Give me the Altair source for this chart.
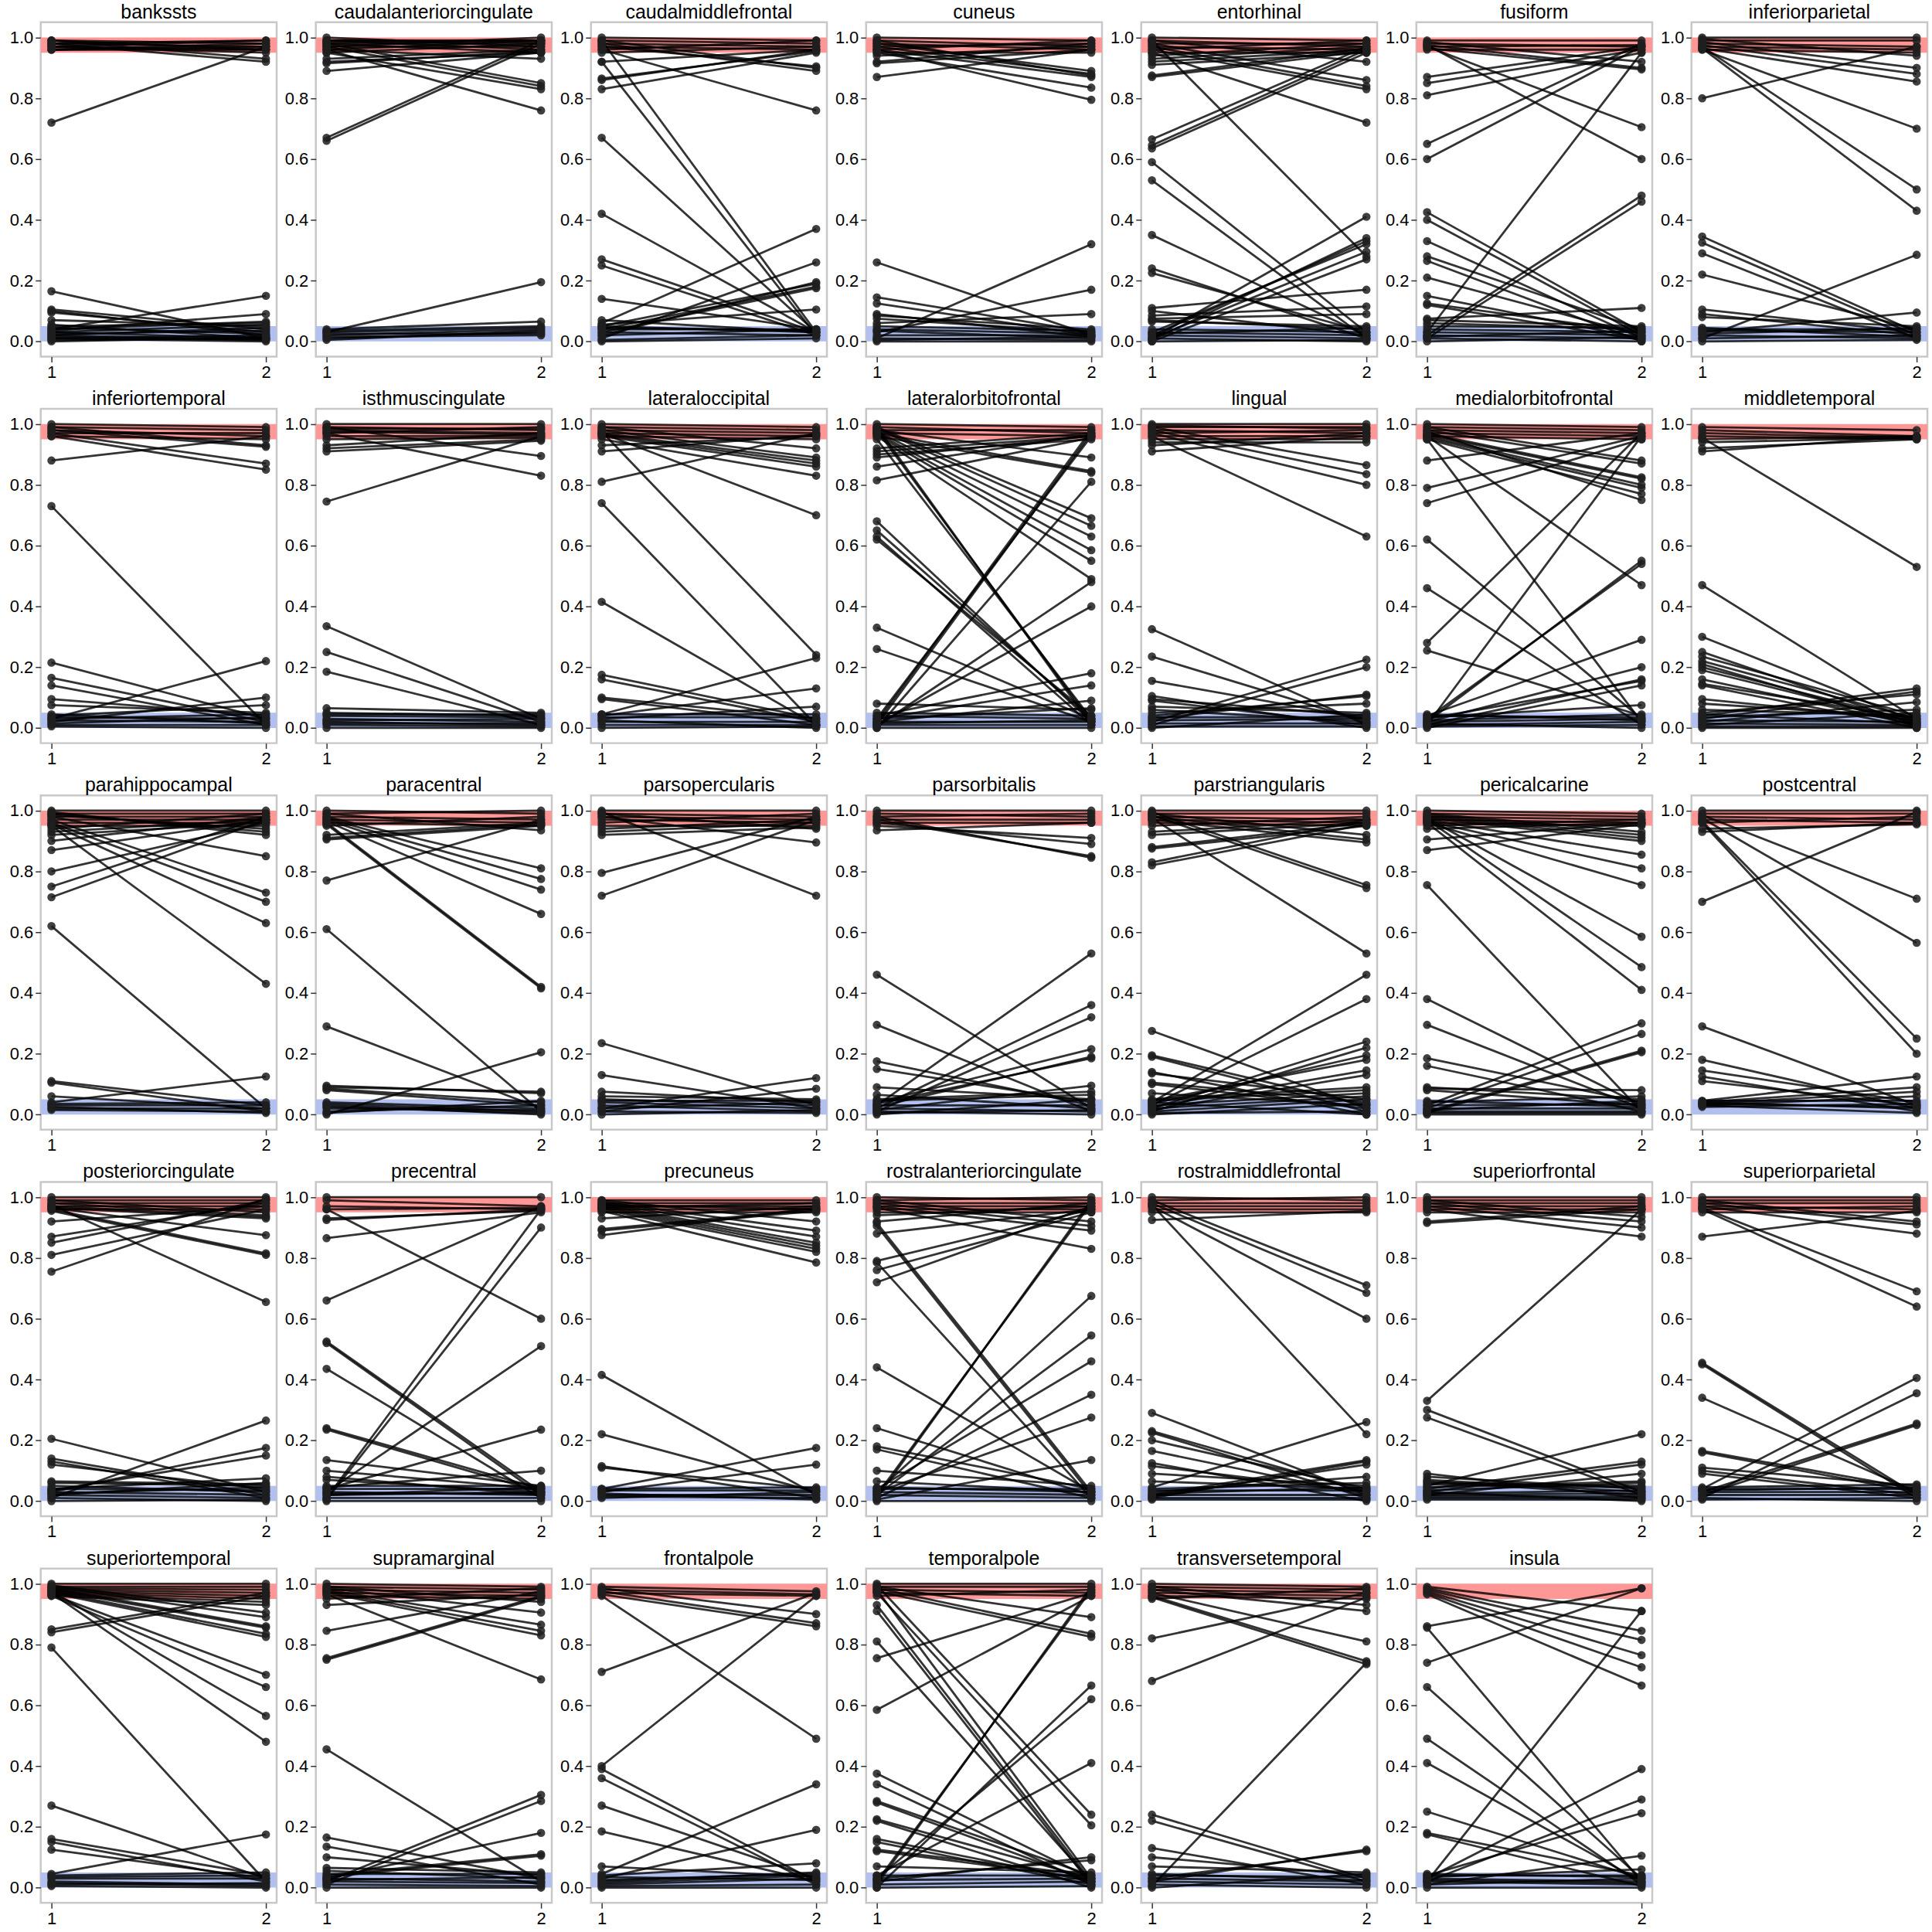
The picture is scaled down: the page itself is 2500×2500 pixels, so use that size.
import altair as alt
import pandas as pd

# threshold bands
band_high = [0.95, 1.0]
band_low = [0.0, 0.05]
x_ticks = [1, 2]
y_ticks = [0.0, 0.2, 0.4, 0.6, 0.8, 1.0]

# (time 1, time 2) values per subject, per region
bankssts = [(0.99,0.98),(0.98,0.99),(0.97,0.96),(0.96,0.97),(0.99,0.96),(0.98,0.97),(0.97,0.99),(0.96,0.98),(0.99,0.93),(0.98,0.92),(0.97,0.95),(0.96,0.96),(0.72,0.97),
            (0.165,0.01),(0.105,0.04),(0.10,0.02),(0.095,0.03),(0.07,0.05),(0.04,0.15),(0.035,0.09),(0.05,0.06),(0.04,0.065),(0.03,0.01),(0.02,0.005),(0.01,0.02),(0.005,0.01),(0.025,0.035),(0.015,0.005),(0.03,0.055),(0.02,0.045),(0.01,0.0),(0.0,0.015),(0.045,0.025),(0.055,0.01)]
caudalanteriorcingulate = [(0.99,0.99),(0.98,0.98),(0.97,1.0),(0.96,0.99),(1.0,0.97),(0.99,0.96),(0.98,0.95),(0.97,0.97),(0.95,0.98),(0.93,0.96),(0.92,0.95),(0.915,0.955),(0.89,0.95),(0.96,0.93),(0.98,0.85),(0.97,0.84),(0.95,0.83),(0.96,0.76),(0.67,0.99),(0.66,0.98),(0.99,0.985),(0.985,0.99),
            (0.03,0.195),(0.04,0.065),(0.035,0.05),(0.02,0.04),(0.01,0.03),(0.015,0.02),(0.025,0.025),(0.005,0.035),(0.03,0.045)]
caudalmiddlefrontal = [(1.0,0.99),(0.99,0.98),(0.98,0.97),(0.97,0.96),(0.96,0.99),(0.95,0.97),(0.99,0.9),(0.98,0.89),(0.97,0.905),(0.96,0.76),(0.92,0.96),(0.865,0.955),(0.86,0.96),(0.83,0.95),(0.99,0.03),(0.92,0.02),
            (0.67,0.03),(0.42,0.03),(0.27,0.03),(0.25,0.02),(0.14,0.04),(0.07,0.03),(0.06,0.37),(0.01,0.26),(0.05,0.19),(0.04,0.18),(0.03,0.175),(0.02,0.195),(0.055,0.105),(0.04,0.04),(0.03,0.02),(0.0,0.01),(0.005,0.02),(0.045,0.035),(0.05,0.03),(0.02,0.04)]
cuneus = [(1.0,0.99),(0.99,0.97),(0.98,0.96),(0.97,0.98),(0.96,0.99),(0.95,0.95),(0.94,0.97),(0.92,0.98),(0.915,0.96),(0.87,0.96),(0.98,0.89),(0.97,0.88),(0.96,0.87),(0.95,0.835),(0.96,0.795),(0.99,0.875),
            (0.26,0.02),(0.01,0.32),(0.145,0.03),(0.125,0.02),(0.09,0.015),(0.085,0.04),(0.075,0.03),(0.06,0.09),(0.03,0.17),(0.05,0.035),(0.035,0.01),(0.02,0.02),(0.01,0.005),(0.0,0.0),(0.04,0.025),(0.005,0.015)]
entorhinal = [(1.0,0.99),(0.99,0.97),(0.98,0.98),(0.97,0.96),(0.96,0.99),(0.95,0.95),(0.94,0.98),(0.93,0.97),(0.92,0.96),(0.91,0.95),(0.875,0.965),(0.87,0.955),(0.99,0.92),(0.98,0.86),(0.97,0.84),(0.96,0.83),(0.95,0.72),(0.99,0.28),
            (0.665,0.97),(0.645,0.96),(0.635,0.95),(0.59,0.03),(0.53,0.01),(0.35,0.02),(0.24,0.01),(0.225,0.03),
            (0.01,0.41),(0.005,0.34),(0.02,0.33),(0.03,0.32),(0.01,0.295),(0.0,0.27),(0.11,0.17),(0.1,0.02),(0.085,0.115),(0.075,0.09),(0.07,0.04),(0.065,0.05),(0.03,0.02),(0.02,0.01),(0.01,0.0),(0.0,0.005),(0.04,0.03),(0.025,0.045)]
fusiform = [(0.99,0.99),(0.98,0.97),(0.97,0.975),(0.96,0.96),(0.985,0.92),(0.975,0.9),(0.965,0.895),(0.97,0.705),(0.975,0.60),(0.87,0.97),(0.85,0.96),(0.81,0.95),(0.65,0.98),(0.60,0.97),
            (0.425,0.03),(0.40,0.02),(0.33,0.01),(0.28,0.04),(0.265,0.0),(0.21,0.02),(0.15,0.01),(0.125,0.03),(0.12,0.005),(0.075,0.11),(0.07,0.05),(0.06,0.04),(0.02,0.48),(0.01,0.46),(0.03,0.95),
            (0.04,0.03),(0.03,0.02),(0.02,0.01),(0.01,0.0),(0.05,0.045),(0.0,0.015),(0.015,0.035)]
inferiorparietal = [(1.0,1.0),(0.99,0.99),(0.98,0.97),(0.97,0.96),(0.96,0.95),(0.995,0.94),(0.985,0.90),(0.975,0.88),(0.965,0.855),(0.96,0.70),(0.97,0.50),(0.965,0.43),(0.80,0.97),
            (0.345,0.03),(0.325,0.02),(0.29,0.01),(0.22,0.04),(0.105,0.03),(0.09,0.02),(0.08,0.05),(0.01,0.285),(0.03,0.095),(0.04,0.04),(0.035,0.03),(0.02,0.01),(0.01,0.02),(0.0,0.005),(0.025,0.045),(0.045,0.015)]
inferiortemporal = [(1.0,0.99),(0.99,0.98),(0.98,0.96),(0.97,0.97),(0.96,0.95),(0.99,0.93),(0.98,0.925),(0.97,0.87),(0.96,0.85),(0.88,0.96),(0.73,0.01),
            (0.215,0.03),(0.165,0.02),(0.14,0.01),(0.095,0.04),(0.075,0.05),(0.03,0.22),(0.02,0.1),(0.04,0.075),(0.035,0.03),(0.025,0.02),(0.01,0.01),(0.005,0.0),(0.03,0.045),(0.015,0.035),(0.045,0.015)]
isthmuscingulate = [(1.0,1.0),(0.99,0.98),(0.98,0.97),(0.97,0.99),(0.96,0.96),(0.95,0.955),(0.93,0.97),(0.92,0.95),(0.91,0.945),(0.99,0.895),(0.97,0.83),(0.745,0.96),(0.985,0.985),(0.975,0.965),
            (0.335,0.03),(0.25,0.02),(0.185,0.01),(0.065,0.05),(0.05,0.04),(0.04,0.035),(0.03,0.02),(0.02,0.01),(0.01,0.005),(0.0,0.0),(0.045,0.045),(0.025,0.03),(0.015,0.015)]
lateraloccipital = [(1.0,0.99),(0.99,0.98),(0.98,0.97),(0.97,0.96),(0.96,0.95),(0.99,0.92),(0.98,0.89),(0.97,0.88),(0.965,0.87),(0.96,0.86),(0.95,0.83),(0.97,0.70),(0.93,0.96),(0.91,0.965),(0.81,0.97),(0.975,0.24),(0.74,0.01),
            (0.415,0.01),(0.175,0.03),(0.16,0.02),(0.10,0.03),(0.095,0.01),(0.045,0.23),(0.04,0.13),(0.03,0.07),(0.02,0.02),(0.01,0.01),(0.0,0.005),(0.035,0.035),(0.045,0.045),(0.025,0.0)]
lateralorbitofrontal = [(0.99,0.97),(0.98,0.98),(1.0,0.99),(0.97,0.96),(0.98,0.89),(0.97,0.845),(0.96,0.84),(0.99,0.69),(0.985,0.665),(0.975,0.63),(0.97,0.585),(0.965,0.55),(0.96,0.49),(0.98,0.02),(0.99,0.01),(0.95,0.03),
            (0.92,0.97),(0.91,0.96),(0.90,0.95),(0.89,0.96),(0.86,0.965),(0.815,0.955),(0.68,0.02),(0.65,0.03),(0.63,0.01),(0.62,0.04),(0.33,0.03),(0.26,0.02),
            (0.02,0.98),(0.01,0.97),(0.03,0.96),(0.0,0.81),(0.005,0.48),(0.01,0.40),(0.04,0.18),(0.03,0.14),(0.08,0.06),(0.02,0.09),(0.03,0.065),
            (0.04,0.03),(0.02,0.02),(0.01,0.01),(0.0,0.0),(0.05,0.04),(0.015,0.025)]
lingual = [(1.0,1.0),(0.99,0.99),(0.98,0.97),(0.97,0.98),(0.96,0.96),(0.95,0.95),(0.94,0.94),(0.93,0.97),(0.91,0.96),(0.99,0.865),(0.98,0.835),(0.97,0.80),(0.96,0.63),(0.995,0.985),
            (0.325,0.01),(0.235,0.02),(0.155,0.03),(0.105,0.0),(0.095,0.04),(0.09,0.01),(0.07,0.05),(0.06,0.02),(0.02,0.225),(0.01,0.2),(0.03,0.11),(0.04,0.105),(0.05,0.08),(0.035,0.035),(0.025,0.03),(0.015,0.015),(0.005,0.005),(0.0,0.045)]
medialorbitofrontal = [(1.0,0.99),(0.99,0.98),(0.98,0.97),(0.97,0.96),(0.96,0.95),(0.99,0.88),(0.98,0.87),(0.97,0.825),(0.965,0.82),(0.96,0.80),(0.955,0.79),(0.95,0.77),(0.975,0.75),(0.96,0.47),(0.95,0.02),
            (0.88,0.97),(0.79,0.96),(0.74,0.95),(0.62,0.03),(0.46,0.01),(0.28,0.97),(0.255,0.04),
            (0.01,0.96),(0.02,0.55),(0.03,0.54),(0.04,0.29),(0.02,0.20),(0.01,0.16),(0.03,0.155),(0.0,0.14),(0.035,0.075),(0.04,0.035),(0.02,0.03),(0.01,0.02),(0.005,0.01),(0.025,0.045),(0.015,0.0),(0.045,0.025)]
middletemporal = [(0.99,0.98),(0.98,0.96),(0.97,0.955),(0.96,0.95),(0.95,0.96),(0.94,0.955),(0.92,0.95),(0.91,0.96),(0.955,0.53),
            (0.47,0.03),(0.30,0.02),(0.25,0.01),(0.235,0.04),(0.22,0.03),(0.21,0.005),(0.20,0.02),(0.19,0.015),(0.16,0.01),(0.145,0.03),(0.14,0.0),(0.095,0.025),(0.08,0.035),(0.06,0.04),(0.04,0.13),(0.03,0.12),(0.05,0.11),(0.02,0.085),(0.035,0.06),(0.01,0.05),(0.045,0.015),(0.025,0.02),(0.015,0.01),(0.005,0.005),(0.0,0.0)]
parahippocampal = [(1.0,1.0),(0.99,0.99),(0.98,0.98),(0.97,0.97),(0.96,0.96),(0.95,0.95),(0.94,0.99),(0.93,0.97),(0.92,0.96),(0.90,0.98),(0.87,0.97),(0.80,0.96),(0.75,0.98),(0.715,0.97),(0.99,0.93),(0.98,0.85),(0.97,0.73),(0.96,0.70),(0.955,0.63),(0.95,0.43),(0.985,0.94),(0.995,0.92),(0.62,0.02),
            (0.11,0.03),(0.105,0.01),(0.06,0.02),(0.04,0.125),(0.035,0.04),(0.03,0.03),(0.02,0.02),(0.015,0.01),(0.025,0.005)]
paracentral = [(1.0,0.99),(0.99,1.0),(0.98,0.97),(0.97,0.96),(0.96,0.95),(0.95,0.98),(0.99,0.935),(0.98,0.81),(0.975,0.775),(0.97,0.74),(0.965,0.66),(0.96,0.42),(0.955,0.415),(0.92,0.96),(0.91,0.955),(0.905,0.95),(0.77,0.97),(0.61,0.01),(0.29,0.02),
            (0.095,0.07),(0.09,0.075),(0.085,0.04),(0.08,0.03),(0.0,0.205),(0.04,0.02),(0.035,0.01),(0.03,0.0),(0.02,0.015),(0.01,0.03),(0.005,0.045),(0.025,0.005)]
parsopercularis = [(1.0,1.0),(0.99,0.98),(0.98,0.97),(0.97,0.96),(0.96,0.99),(0.95,0.95),(0.94,0.97),(0.93,0.96),(0.92,0.945),(0.99,0.94),(0.98,0.895),(0.995,0.72),(0.795,0.98),(0.72,0.97),
            (0.235,0.03),(0.13,0.02),(0.075,0.04),(0.06,0.05),(0.02,0.12),(0.01,0.085),(0.05,0.03),(0.04,0.02),(0.03,0.01),(0.02,0.04),(0.01,0.005),(0.0,0.015),(0.045,0.045)]
parsorbitalis = [(1.0,1.0),(0.99,0.98),(0.97,0.97),(0.96,0.96),(0.98,0.99),(0.95,0.91),(0.96,0.89),(0.97,0.85),(0.98,0.845),(0.935,0.96),
            (0.46,0.02),(0.295,0.01),(0.175,0.03),(0.15,0.04),(0.09,0.05),(0.065,0.02),(0.03,0.53),(0.02,0.36),(0.01,0.32),(0.04,0.215),(0.025,0.19),(0.035,0.185),(0.015,0.095),(0.05,0.075),(0.045,0.065),(0.0,0.05),(0.03,0.03),(0.02,0.01),(0.01,0.0),(0.005,0.015)]
parstriangularis = [(1.0,1.0),(0.99,0.99),(0.98,0.97),(0.97,0.96),(0.96,0.95),(0.95,0.98),(0.93,0.97),(0.92,0.96),(0.88,0.96),(0.875,0.95),(0.83,0.97),(0.82,0.955),(0.99,0.92),(0.98,0.905),(0.97,0.895),(0.995,0.755),(0.985,0.745),(0.975,0.53),
            (0.275,0.02),(0.195,0.03),(0.19,0.01),(0.14,0.0),(0.135,0.05),(0.105,0.04),(0.10,0.02),(0.07,0.03),(0.04,0.46),(0.03,0.38),(0.02,0.24),(0.01,0.22),(0.035,0.195),(0.045,0.18),(0.025,0.145),(0.015,0.13),(0.05,0.09),(0.045,0.08),(0.03,0.07),(0.02,0.06),(0.01,0.05),(0.0,0.035),(0.005,0.01),(0.04,0.0)]
pericalcarine = [(1.0,0.99),(0.99,0.98),(0.98,0.97),(0.97,0.96),(0.96,0.95),(0.95,0.97),(0.94,0.96),(0.99,0.93),(0.985,0.92),(0.98,0.91),(0.975,0.90),(0.97,0.855),(0.965,0.81),(0.96,0.755),(0.975,0.585),(0.97,0.485),(0.96,0.41),(0.905,0.96),(0.87,0.955),(0.755,0.01),
            (0.38,0.03),(0.295,0.02),(0.185,0.04),(0.16,0.01),(0.09,0.05),(0.085,0.08),(0.08,0.03),(0.03,0.30),(0.02,0.265),(0.01,0.21),(0.005,0.205),(0.04,0.06),(0.03,0.035),(0.02,0.02),(0.01,0.01),(0.0,0.0),(0.005,0.005),(0.045,0.025),(0.015,0.045)]
postcentral = [(1.0,1.0),(0.99,0.99),(0.98,0.97),(0.97,0.96),(0.96,0.98),(0.94,0.955),(0.93,0.96),(0.985,0.71),(0.975,0.565),(0.965,0.25),(0.96,0.20),(0.70,0.995),
            (0.29,0.03),(0.18,0.02),(0.145,0.04),(0.125,0.01),(0.11,0.03),(0.045,0.125),(0.04,0.09),(0.035,0.075),(0.03,0.06),(0.045,0.045),(0.04,0.02),(0.03,0.005),(0.025,0.035),(0.035,0.025)]
posteriorcingulate = [(1.0,1.0),(0.99,0.99),(0.98,0.98),(0.97,0.97),(0.96,0.96),(0.99,0.95),(0.98,0.94),(0.97,0.935),(0.965,0.875),(0.96,0.815),(0.955,0.81),(0.975,0.655),(0.92,0.97),(0.87,0.98),(0.85,0.99),(0.81,0.96),(0.755,0.995),(0.965,0.93),
            (0.205,0.03),(0.14,0.02),(0.13,0.01),(0.12,0.04),(0.065,0.055),(0.06,0.05),(0.01,0.265),(0.03,0.175),(0.035,0.15),(0.04,0.075),(0.02,0.06),(0.05,0.03),(0.04,0.035),(0.03,0.02),(0.02,0.01),(0.01,0.0),(0.0,0.005),(0.025,0.045)]
precentral = [(1.0,1.0),(0.99,0.97),(0.97,0.96),(0.96,0.965),(0.93,0.955),(0.925,0.96),(0.865,0.95),(0.96,0.60),(0.66,0.97),
            (0.525,0.03),(0.52,0.02),(0.435,0.01),(0.24,0.04),(0.235,0.03),
            (0.135,0.05),(0.10,0.04),(0.08,0.02),(0.07,0.03),(0.01,0.96),(0.005,0.90),(0.03,0.51),(0.04,0.235),(0.045,0.10),(0.05,0.05),(0.04,0.04),(0.03,0.02),(0.02,0.03),(0.01,0.01),(0.0,0.0),(0.02,0.045),(0.025,0.025)]
precuneus = [(0.99,0.99),(0.98,0.98),(0.97,0.97),(0.96,0.96),(0.95,0.95),(0.93,0.97),(0.895,0.96),(0.89,0.955),(0.875,0.965),(0.99,0.92),(0.985,0.89),(0.98,0.87),(0.975,0.85),(0.97,0.84),(0.965,0.83),(0.96,0.82),(0.955,0.785),(0.965,0.98),(0.975,0.96),
            (0.415,0.02),(0.22,0.03),(0.115,0.01),(0.11,0.04),(0.04,0.175),(0.03,0.12),(0.035,0.035),(0.02,0.02),(0.015,0.01),(0.025,0.005),(0.01,0.03),(0.04,0.045)]
rostralanteriorcingulate = [(1.0,0.99),(0.99,1.0),(0.98,0.98),(0.97,0.97),(0.96,0.96),(0.95,0.95),(0.99,0.92),(0.98,0.905),(0.97,0.89),(0.965,0.83),(0.94,0.97),(0.92,0.98),(0.915,0.03),(0.905,0.02),(0.88,0.96),(0.79,0.96),(0.785,0.01),(0.76,0.95),(0.72,0.97),
            (0.44,0.03),(0.24,0.02),(0.18,0.04),(0.17,0.01),(0.10,0.05),(0.065,0.03),
            (0.01,0.99),(0.02,0.98),(0.03,0.675),(0.02,0.545),(0.04,0.46),(0.01,0.35),(0.03,0.275),(0.005,0.135),(0.04,0.04),(0.03,0.02),(0.02,0.01),(0.0,0.0),(0.045,0.03)]
rostralmiddlefrontal = [(1.0,0.99),(0.99,1.0),(0.98,0.98),(0.97,0.97),(0.96,0.96),(0.95,0.95),(0.925,0.955),(0.99,0.71),(0.98,0.685),(0.97,0.60),(0.975,0.22),
            (0.29,0.02),(0.23,0.03),(0.225,0.01),(0.20,0.04),(0.165,0.02),(0.125,0.0),(0.115,0.03),(0.09,0.05),(0.065,0.04),(0.045,0.26),(0.02,0.135),(0.01,0.13),(0.015,0.12),(0.03,0.08),(0.04,0.06),(0.035,0.035),(0.02,0.02),(0.01,0.01),(0.005,0.005),(0.025,0.045)]
superiorfrontal = [(1.0,1.0),(0.99,0.99),(0.98,0.98),(0.97,0.97),(0.96,0.96),(0.95,0.95),(0.92,0.97),(0.915,0.96),(0.99,0.935),(0.98,0.92),(0.97,0.90),(0.96,0.87),(0.33,0.96),(0.30,0.03),(0.275,0.02),
            (0.09,0.01),(0.08,0.04),(0.07,0.03),(0.065,0.02),(0.06,0.05),(0.055,0.045),(0.05,0.22),(0.04,0.13),(0.03,0.12),(0.02,0.09),(0.045,0.065),(0.035,0.06),(0.025,0.035),(0.02,0.025),(0.015,0.015),(0.01,0.01),(0.005,0.005),(0.03,0.0)]
superiorparietal = [(1.0,1.0),(0.99,0.99),(0.98,0.98),(0.97,0.96),(0.96,0.97),(0.95,0.95),(0.99,0.92),(0.98,0.91),(0.97,0.88),(0.965,0.69),(0.96,0.64),(0.87,0.955),
            (0.455,0.02),(0.45,0.01),(0.34,0.03),(0.165,0.04),(0.16,0.03),(0.11,0.05),(0.1,0.02),(0.09,0.01),(0.04,0.405),(0.01,0.355),(0.02,0.25),(0.03,0.255),(0.045,0.055),(0.04,0.04),(0.03,0.03),(0.02,0.02),(0.01,0.0),(0.005,0.01),(0.035,0.045)]
superiortemporal = [(1.0,1.0),(0.99,0.99),(0.985,0.98),(0.98,0.97),(0.975,0.96),(0.97,0.95),(0.965,0.94),(0.96,0.93),(0.995,0.905),(0.99,0.89),(0.985,0.86),(0.98,0.855),(0.975,0.835),(0.97,0.825),(0.965,0.70),(0.96,0.66),(0.975,0.565),(0.97,0.48),(0.85,0.97),(0.84,0.96),(0.79,0.02),
            (0.27,0.03),(0.16,0.04),(0.15,0.02),(0.125,0.03),(0.045,0.175),(0.04,0.05),(0.035,0.04),(0.02,0.01),(0.015,0.005),(0.01,0.015),(0.005,0.0),(0.03,0.03)]
supramarginal = [(1.0,0.99),(0.99,0.98),(0.98,0.97),(0.97,0.96),(0.96,0.95),(0.95,0.985),(0.93,0.965),(0.845,0.975),(0.755,0.96),(0.75,0.955),(0.99,0.94),(0.985,0.905),(0.98,0.865),(0.975,0.845),(0.97,0.83),(0.965,0.685),
            (0.455,0.02),(0.165,0.03),(0.135,0.01),(0.10,0.04),(0.065,0.05),(0.055,0.03),(0.02,0.305),(0.01,0.285),(0.03,0.18),(0.035,0.105),(0.04,0.11),(0.045,0.045),(0.03,0.02),(0.02,0.015),(0.01,0.005),(0.0,0.0),(0.025,0.035)]
frontalpole = [(0.99,0.975),(0.98,0.965),(0.97,0.96),(0.985,0.90),(0.975,0.87),(0.965,0.86),(0.96,0.49),(0.71,0.97),
            (0.40,0.96),(0.39,0.02),(0.36,0.01),(0.27,0.03),(0.185,0.02),
            (0.07,0.035),(0.045,0.34),(0.03,0.19),(0.04,0.08),(0.02,0.05),(0.015,0.04),(0.01,0.03),(0.005,0.01),(0.0,0.0),(0.025,0.045),(0.035,0.025)]
temporalpole = [(1.0,1.0),(0.99,0.99),(0.98,0.97),(0.97,0.96),(0.96,0.98),(0.99,0.89),(0.985,0.835),(0.975,0.825),(0.995,0.24),(0.97,0.205),(0.93,0.02),(0.91,0.01),(0.98,0.03),
            (0.81,0.02),(0.755,0.97),(0.585,0.96),(0.375,0.03),(0.34,0.01),(0.285,0.04),(0.28,0.02),(0.225,0.03),(0.22,0.0),(0.16,0.02),(0.15,0.01),(0.125,0.04),(0.12,0.03),(0.07,0.05),
            (0.01,0.99),(0.02,0.98),(0.0,0.665),(0.03,0.62),(0.04,0.41),(0.02,0.10),(0.03,0.09),(0.04,0.04),(0.01,0.02),(0.0,0.005),(0.025,0.03)]
transversetemporal = [(1.0,0.99),(0.99,0.98),(0.98,0.97),(0.97,0.96),(0.96,0.95),(0.95,0.985),(0.82,0.97),(0.68,0.955),(0.99,0.93),(0.98,0.91),(0.97,0.81),(0.96,0.745),(0.955,0.735),
            (0.24,0.03),(0.22,0.02),(0.13,0.01),(0.10,0.04),(0.07,0.05),(0.005,0.74),(0.02,0.125),(0.03,0.12),(0.04,0.035),(0.03,0.02),(0.02,0.01),(0.01,0.0),(0.0,0.045),(0.045,0.025)]
insula = [(0.99,0.91),(0.985,0.845),(0.98,0.815),(0.975,0.765),(0.97,0.725),(0.965,0.665),(0.86,0.985),(0.74,0.985),(0.02,0.91),
            (0.855,0.02),(0.66,0.03),(0.49,0.01),(0.41,0.02),(0.25,0.03),(0.18,0.04),(0.175,0.005),
            (0.03,0.39),(0.02,0.29),(0.04,0.245),(0.01,0.105),(0.035,0.06),(0.04,0.04),(0.03,0.02),(0.02,0.01),(0.01,0.03),(0.0,0.0),(0.025,0.015),(0.045,0.035)]

panels = [
    ("bankssts", bankssts), ("caudalanteriorcingulate", caudalanteriorcingulate),
    ("caudalmiddlefrontal", caudalmiddlefrontal), ("cuneus", cuneus),
    ("entorhinal", entorhinal), ("fusiform", fusiform),
    ("inferiorparietal", inferiorparietal), ("inferiortemporal", inferiortemporal),
    ("isthmuscingulate", isthmuscingulate), ("lateraloccipital", lateraloccipital),
    ("lateralorbitofrontal", lateralorbitofrontal), ("lingual", lingual),
    ("medialorbitofrontal", medialorbitofrontal), ("middletemporal", middletemporal),
    ("parahippocampal", parahippocampal), ("paracentral", paracentral),
    ("parsopercularis", parsopercularis), ("parsorbitalis", parsorbitalis),
    ("parstriangularis", parstriangularis), ("pericalcarine", pericalcarine),
    ("postcentral", postcentral), ("posteriorcingulate", posteriorcingulate),
    ("precentral", precentral), ("precuneus", precuneus),
    ("rostralanteriorcingulate", rostralanteriorcingulate), ("rostralmiddlefrontal", rostralmiddlefrontal),
    ("superiorfrontal", superiorfrontal), ("superiorparietal", superiorparietal),
    ("superiortemporal", superiortemporal), ("supramarginal", supramarginal),
    ("frontalpole", frontalpole), ("temporalpole", temporalpole),
    ("transversetemporal", transversetemporal), ("insula", insula),
]

W, H = 307, 435
FONT = "Liberation Sans"

xscale = alt.Scale(domain=[0.95, 2.05], nice=False, zero=False)
yscale = alt.Scale(domain=[-0.05, 1.05], nice=False, zero=False)
xaxis = alt.Axis(values=x_ticks, format="d", title=None, grid=False, domain=False,
                 tickSize=7, labelPadding=3, minExtent=30, maxExtent=30)
yaxis = alt.Axis(values=y_ticks, format=".1f", title=None, grid=False, domain=False,
                 tickSize=7, labelPadding=3, minExtent=40, maxExtent=40)

band_df = pd.DataFrame({
    "lo": [band_high[0], band_low[0]],
    "hi": [band_high[1], band_low[1]],
    "band": ["high", "low"],
})


def make_panel(name, pairs):
    rows = []
    for i, (a, b) in enumerate(pairs):
        rows.append({"subject": i, "time": 1, "value": a})
        rows.append({"subject": i, "time": 2, "value": b})
    df = pd.DataFrame(rows)
    bands = alt.Chart(band_df).mark_rect().encode(
        x=alt.value(0), x2=alt.value("width"),
        y=alt.Y("lo:Q", scale=yscale, axis=yaxis), y2="hi:Q",
        color=alt.Color("band:N", scale=alt.Scale(domain=["high", "low"], range=["#ff9797", "#b1c0ef"]), legend=None),
    )
    base = alt.Chart(df).encode(
        x=alt.X("time:Q", scale=xscale, axis=xaxis),
        y=alt.Y("value:Q", scale=yscale, axis=yaxis),
    )
    lines = base.mark_line(color="#000000", strokeWidth=2.8, opacity=0.8).encode(detail="subject:N")
    points = base.mark_circle(color="#1e1e1e", size=115, opacity=0.85)
    return alt.layer(bands, lines, points).properties(
        width=W, height=H, title=alt.TitleParams(name, fontSize=25, font=FONT, fontWeight="normal", color="black", offset=0)
    )


charts = [make_panel(n, p) for n, p in panels]
rows_ = [alt.hconcat(*charts[i:i + 7], spacing=7) for i in range(0, len(charts), 7)]
chart = alt.vconcat(*rows_, spacing=8).properties(
    padding={"left": 11, "top": -5, "right": 4, "bottom": 4}
).configure_view(
    stroke="#c8c8c8", strokeWidth=2.5
).configure_axis(
    labelFont=FONT, labelFontSize=22, labelColor="black", tickColor="#333333", tickWidth=1.5
).configure_title(
    font=FONT, fontSize=25, fontWeight="normal", color="black"
)

chart.save("out.html", embed_options={"renderer": "svg", "actions": False})
